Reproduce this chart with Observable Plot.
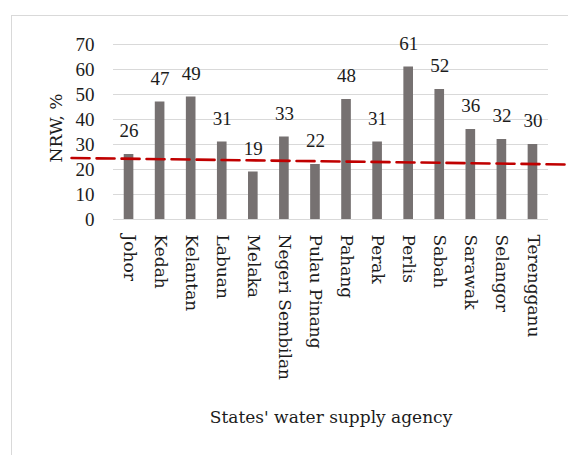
<!DOCTYPE html>
<html>
<head>
<meta charset="utf-8">
<script src="https://cdn.jsdelivr.net/npm/d3@7"></script>
<script src="https://cdn.jsdelivr.net/npm/@observablehq/plot@0.6"></script>
<style>
  html, body { margin: 0; padding: 0; background: #fff; overflow: hidden; }
  #wrap { position: relative; width: 568px; height: 455px; }
  #frame { position: absolute; left: 11px; top: 15px; width: 620px; height: 520px;
           border: 1.5px solid #d9d9d9; pointer-events: none; }
</style>
</head>
<body>
<div id="wrap"><div id="frame"></div></div>
<script>
const states = ["Johor","Kedah","Kelantan","Labuan","Melaka","Negeri Sembilan","Pulau Pinang",
                "Pahang","Perak","Perlis","Sabah","Sarawak","Selangor","Terengganu"];
const nrw = [26, 47, 49, 31, 19, 33, 22, 48, 31, 61, 52, 36, 32, 30];
const yTicks = [0, 10, 20, 30, 40, 50, 60, 70];
const yLabel = "NRW, %";
const xLabel = "States' water supply agency";
// red dashed reference (trend) line: position in category index units, value in %
const trendPos = [-1.85, 14.2];
const trendVal = [24.6, 22.0];

const data = states.map((s, i) => ({i, s, v: nrw[i]}));
const trend = trendPos.map((p, k) => ({p, v: trendVal[k]}));
const half = 0.155;
const ink = "#1c1c1c";

const chart = Plot.plot({
  width: 568,
  height: 455,
  marginLeft: 113,
  marginRight: 20,
  marginTop: 44,
  marginBottom: 236,
  style: {fontFamily: "DejaVu Serif", fontSize: "17px", color: ink, background: "transparent"},
  x: {domain: [-0.5, 13.5]},
  y: {domain: [0, 70]},
  marks: [
    Plot.gridY(yTicks, {stroke: "#d9d9d9", strokeOpacity: 1, strokeWidth: 1}),
    Plot.rectY(data, {x1: d => d.i - half, x2: d => d.i + half, y1: 0, y2: "v", fill: "#767171"}),
    Plot.text(data, {x: "i", y: "v", text: d => String(d.v), dy: -23.5,
                     fontFamily: "Liberation Serif", fontSize: 19, fill: ink}),
    Plot.line(trend, {x: "p", y: "v", stroke: "#c00000", strokeWidth: 2.6, strokeDasharray: "18,7"}),
    Plot.axisY(yTicks, {tickSize: 0, tickPadding: 19, label: null,
                        fontFamily: "Liberation Serif", fontSize: 19, fill: ink}),
    Plot.axisX(d3.range(states.length), {tickSize: 0, tickPadding: 15, tickRotate: 90,
                        tickFormat: i => states[i], label: null, fontSize: 17, fill: ink}),
    Plot.text([yLabel], {frameAnchor: "left", textAnchor: "middle", rotate: -90, dx: -57, dy: -4,
                         fontSize: 17, fill: ink}),
    Plot.text([xLabel], {frameAnchor: "bottom", textAnchor: "middle", dy: 203, fontSize: 17, fill: ink})
  ]
});
document.getElementById("wrap").prepend(chart);
</script>
</body>
</html>
